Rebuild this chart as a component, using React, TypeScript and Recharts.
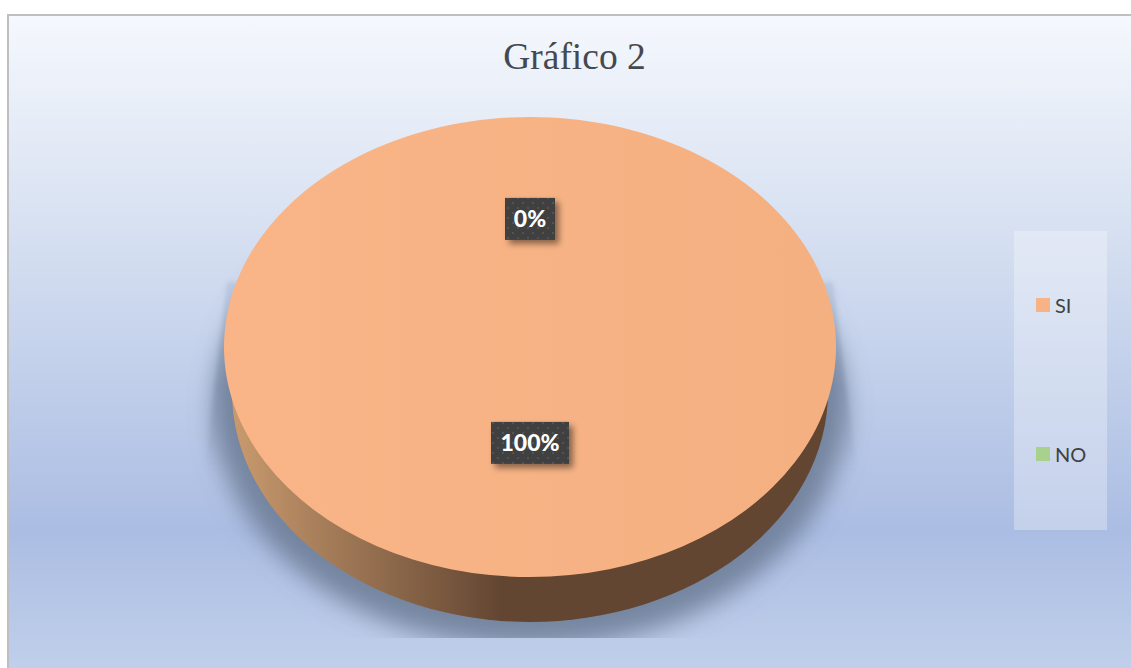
import React from "react";
import { PieChart, Pie, Legend, Sector } from "recharts";

const categories = ["SI", "NO"];
const seriesValues = [100, 0];
const seriesColors = ["#f7b385", "#a9d18e"];
const chartTitle = "Gráfico 2";

const pieData = categories.map((name, i) => ({ name, value: seriesValues[i], fill: seriesColors[i] }));

const W = 1131;
const H = 668;
const CX = 530;
const CY = 347;
const RX = 306;
const RY = 230;
const SQUASH = RY / RX;
const DEPTH = 45;
const WALL_RX = 298;
const SHADOW_CUT_Y = 638;
const LABEL_FRACTIONS = [0.417, 0.557];

function Slice(props: any) {
  const { cx, cy, outerRadius, startAngle, endAngle, fill, index } = props;
  if (startAngle === endAngle) return null;
  const ry = outerRadius * SQUASH;
  return (
    <g>
      {index === 0 && (
        <g>
          <g clipPath="url(#shadowClip)">
            <polygon
              points={`${cx - 303},${cy - 65} ${cx - 326},${cy + 130} ${cx - 290},${cy + 170} ${cx + 290},${cy + 170} ${cx + 328},${cy + 135} ${cx + 303},${cy - 65}`}
              fill="url(#wedgeFill)"
              filter="url(#blurWedge)"
            />
            <ellipse cx={cx} cy={cy + 62} rx={outerRadius + 10} ry={ry + 8} fill="#66778f" fillOpacity={0.8} filter="url(#blurShadow)" />
          </g>
          <ellipse cx={cx} cy={cy + DEPTH} rx={WALL_RX} ry={ry} fill="url(#wallFill)" />
        </g>
      )}
      <g transform={`translate(0 ${cy}) scale(1 ${SQUASH}) translate(0 ${-cy})`}>
        <Sector {...props} fill={index === 0 ? "url(#topFill)" : fill} stroke="none" />
      </g>
    </g>
  );
}

function DataLabel(props: any) {
  const { cx, cy, midAngle, outerRadius, percent, index } = props;
  const f = LABEL_FRACTIONS[index];
  const rad = (midAngle * Math.PI) / 180;
  const x = cx + Math.cos(rad) * outerRadius * f;
  const y = cy - Math.sin(rad) * outerRadius * SQUASH * f;
  const text = `${Math.round(percent * 100)}%`;
  const w = text.length > 2 ? 78 : 50;
  const h = 42;
  return (
    <g>
      <rect x={x - w / 2} y={y - h / 2} width={w} height={h} fill="url(#labelPattern)" filter="url(#labelShadow)" />
      <text
        x={x}
        y={y + 8}
        textAnchor="middle"
        fill="#ffffff"
        fontFamily="Lato, 'Open Sans', sans-serif"
        fontWeight={900}
        fontSize={23}
      >
        {text}
      </text>
    </g>
  );
}

function LegendPanel(props: any) {
  const payload = props.payload || [];
  return (
    <div style={{ position: "relative", width: 93, height: 299, background: "rgba(255,255,255,0.3)" }}>
      {payload.map((p: any, i: number) => (
        <div
          key={p.value}
          style={{
            position: "absolute",
            left: 22,
            top: 60 + i * 149,
            height: 28,
            display: "flex",
            alignItems: "center",
            fontFamily: "Lato, 'Open Sans', sans-serif",
            fontSize: 20,
            color: "#404040",
            whiteSpace: "nowrap",
          }}
        >
          <span style={{ width: 14, height: 14, background: p.color, marginRight: 5, display: "inline-block" }} />
          {p.value}
        </div>
      ))}
    </div>
  );
}

export default function App() {
  return (
    <div style={{ position: "absolute", left: 0, top: 0, width: W, height: H, overflow: "hidden", background: "#ffffff" }}>
      <div
        style={{
          position: "absolute",
          left: 7,
          top: 14,
          right: 0,
          bottom: 0,
          borderLeft: "2px solid #bfbfbf",
          borderTop: "2px solid #bfbfbf",
          background: "linear-gradient(180deg, #f5f8fd 0%, #dbe4f3 28%, #abbde3 79%, #c0cfea 100%)",
        }}
      />
      <div
        style={{
          position: "absolute",
          left: 0,
          width: 1149,
          top: 35,
          textAlign: "center",
          fontFamily: "'Liberation Serif', serif",
          fontSize: 37.5,
          lineHeight: "44px",
          color: "#45494f",
        }}
      >
        {chartTitle}
      </div>
      <div style={{ position: "absolute", left: 0, top: 0 }}>
        <PieChart width={W} height={H} margin={{ top: 0, right: 0, bottom: 0, left: 0 }}>
          <defs>
            <linearGradient id="topFill" x1="0" y1="0" x2="1" y2="0">
              <stop offset="0%" stopColor="#f9b587" />
              <stop offset="100%" stopColor="#f5b082" />
            </linearGradient>
            <linearGradient id="wallFill" x1="0" y1="0" x2="1" y2="0">
              <stop offset="0%" stopColor="#c99a6e" />
              <stop offset="45%" stopColor="#634632" />
              <stop offset="100%" stopColor="#634632" />
            </linearGradient>
            <linearGradient id="wedgeFill" x1="0" y1="0" x2="0" y2="1">
              <stop offset="0%" stopColor="#6b7f9e" stopOpacity={0.18} />
              <stop offset="45%" stopColor="#6b7f9e" stopOpacity={0.38} />
              <stop offset="80%" stopColor="#6b7f9e" stopOpacity={0} />
            </linearGradient>
            <filter id="blurShadow" x="-20%" y="-20%" width="140%" height="140%">
              <feGaussianBlur stdDeviation="12" />
            </filter>
            <filter id="blurWedge" x="-10%" y="-10%" width="120%" height="120%">
              <feGaussianBlur stdDeviation="2" />
            </filter>
            <clipPath id="shadowClip">
              <rect x={0} y={0} width={W} height={SHADOW_CUT_Y} />
            </clipPath>
            <pattern id="labelPattern" width="10" height="10" patternUnits="userSpaceOnUse">
              <rect width="10" height="10" fill="#3f3f3f" />
              <rect x="2" y="2" width="2" height="2" fill="#525252" />
              <rect x="7" y="7" width="2" height="2" fill="#525252" />
            </pattern>
            <filter id="labelShadow" x="-30%" y="-30%" width="170%" height="170%">
              <feDropShadow dx="4" dy="4" stdDeviation="3" floodColor="#000000" floodOpacity="0.45" />
            </filter>
          </defs>
          <Pie
            data={pieData}
            dataKey="value"
            nameKey="name"
            cx={CX}
            cy={CY}
            innerRadius={0}
            outerRadius={RX}
            startAngle={90}
            endAngle={-270}
            stroke="none"
            shape={Slice}
            label={DataLabel}
            labelLine={false}
            isAnimationActive={false}
          />
          <Legend
            layout="vertical"
            align="right"
            verticalAlign="middle"
            itemSorter={null}
            content={LegendPanel}
            wrapperStyle={{ position: "absolute", left: 1014, top: 231, width: 93, height: 299, right: "auto", bottom: "auto" }}
          />
        </PieChart>
      </div>
    </div>
  );
}
